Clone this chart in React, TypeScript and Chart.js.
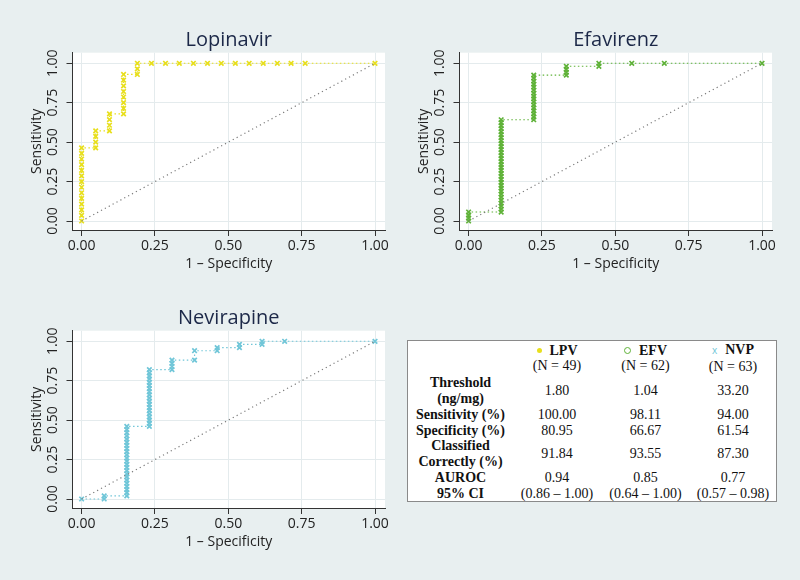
import React, { useEffect, useRef } from "react";
import { Chart, registerables } from "chart.js";

Chart.register(...registerables);

// ---- axis ticks ----
const axisTicks = [0, 0.25, 0.5, 0.75, 1];
const tickLabels = ["0.00", "0.25", "0.50", "0.75", "1.00"];

// ---- Lopinavir ROC points (1 - specificity, sensitivity) ----
const lpvFpr = [
  0, 0, 0, 0, 0, 0, 0, 0, 0, 0, 0, 0, 0, 0,
  0.048, 0.048, 0.048, 0.048,
  0.095, 0.095, 0.095, 0.095,
  0.143, 0.143, 0.143, 0.143, 0.143, 0.143, 0.143, 0.143,
  0.19, 0.19, 0.19,
  0.238, 0.286, 0.333, 0.381, 0.429, 0.476, 0.524, 0.571, 0.619, 0.667, 0.714, 0.762,
  1,
];
const lpvTpr = [
  0, 0.036, 0.071, 0.107, 0.143, 0.179, 0.214, 0.25, 0.286, 0.321, 0.357, 0.393, 0.429, 0.464,
  0.464, 0.5, 0.536, 0.571,
  0.571, 0.607, 0.643, 0.679,
  0.679, 0.714, 0.75, 0.786, 0.821, 0.857, 0.893, 0.929,
  0.929, 0.964, 1,
  1, 1, 1, 1, 1, 1, 1, 1, 1, 1, 1, 1,
  1,
];

// ---- Efavirenz ROC points ----
const efvFpr = [
  0, 0, 0, 0,
  0.111, 0.111, 0.111, 0.111, 0.111, 0.111, 0.111, 0.111, 0.111, 0.111, 0.111, 0.111, 0.111, 0.111, 0.111, 0.111,
  0.111, 0.111, 0.111, 0.111, 0.111, 0.111, 0.111, 0.111, 0.111, 0.111, 0.111, 0.111, 0.111, 0.111, 0.111, 0.111,
  0.222, 0.222, 0.222, 0.222, 0.222, 0.222, 0.222, 0.222, 0.222, 0.222, 0.222, 0.222, 0.222, 0.222, 0.222, 0.222,
  0.333, 0.333, 0.333, 0.333,
  0.444, 0.444,
  0.556, 0.667, 1,
];
const efvTpr = [
  0, 0.019, 0.038, 0.057,
  0.057, 0.075, 0.094, 0.113, 0.132, 0.151, 0.17, 0.189, 0.208, 0.226, 0.245, 0.264, 0.283, 0.302, 0.321, 0.34,
  0.358, 0.377, 0.396, 0.415, 0.434, 0.453, 0.472, 0.491, 0.509, 0.528, 0.547, 0.566, 0.585, 0.604, 0.623, 0.642,
  0.642, 0.66, 0.679, 0.698, 0.717, 0.736, 0.755, 0.774, 0.792, 0.811, 0.83, 0.849, 0.868, 0.887, 0.906, 0.925,
  0.925, 0.943, 0.962, 0.981,
  0.981, 1,
  1, 1, 1,
];

// ---- Nevirapine ROC points ----
const nvpFpr = [
  0,
  0.077, 0.077,
  0.154, 0.154, 0.154, 0.154, 0.154, 0.154, 0.154, 0.154, 0.154, 0.154, 0.154, 0.154,
  0.154, 0.154, 0.154, 0.154, 0.154, 0.154, 0.154, 0.154, 0.154, 0.154, 0.154,
  0.231, 0.231, 0.231, 0.231, 0.231, 0.231, 0.231, 0.231, 0.231, 0.231, 0.231, 0.231, 0.231,
  0.231, 0.231, 0.231, 0.231, 0.231, 0.231,
  0.308, 0.308, 0.308, 0.308,
  0.385, 0.385,
  0.462, 0.462,
  0.538, 0.538,
  0.615, 0.615,
  0.692,
  1,
];
const nvpTpr = [
  0,
  0, 0.02,
  0.02, 0.04, 0.06, 0.08, 0.1, 0.12, 0.14, 0.16, 0.18, 0.2, 0.22, 0.24,
  0.26, 0.28, 0.3, 0.32, 0.34, 0.36, 0.38, 0.4, 0.42, 0.44, 0.46,
  0.46, 0.48, 0.5, 0.52, 0.54, 0.56, 0.58, 0.6, 0.62, 0.64, 0.66, 0.68, 0.7,
  0.72, 0.74, 0.76, 0.78, 0.8, 0.82,
  0.82, 0.84, 0.86, 0.88,
  0.88, 0.94,
  0.94, 0.96,
  0.96, 0.98,
  0.98, 1,
  1,
  1,
];

// ---- table values ----
const drugCodes = ["LPV", "EFV", "NVP"];
const sampleSizes = [49, 62, 63];
const thresholds = ["1.80", "1.04", "33.20"];
const sensitivities = ["100.00", "98.11", "94.00"];
const specificities = ["80.95", "66.67", "61.54"];
const classifiedCorrectly = ["91.84", "93.55", "87.30"];
const aurocs = ["0.94", "0.85", "0.77"];
const ciLow = ["0.86", "0.64", "0.57"];
const ciHigh = ["1.00", "1.00", "0.98"];

const LPV_COLOR = "#e8df1c";
const EFV_COLOR = "#5fb238";
const NVP_COLOR = "#70c6d8";
const PAGE_BG = "#e8eff0";
const FONT = '"Open Sans", "Noto Sans", sans-serif';

type PanelProps = {
  title: string;
  xs: number[];
  ys: number[];
  color: string;
  left: number;
  top: number;
};

function Panel({ title, xs, ys, color, left, top }: PanelProps) {
  const ref = useRef<HTMLCanvasElement | null>(null);
  useEffect(() => {
    if (!ref.current) return;
    const decor = {
      id: "panelDecor",
      beforeDraw(chart: any) {
        const { ctx, chartArea: a } = chart;
        ctx.save();
        ctx.fillStyle = "#ffffff";
        ctx.fillRect(a.left, a.top, a.right - a.left, a.bottom - a.top);
        ctx.restore();
      },
      afterDraw(chart: any) {
        const { ctx, chartArea: a } = chart;
        ctx.save();
        ctx.font = `20px ${FONT}`;
        ctx.fillStyle = "#1c2848";
        ctx.textAlign = "center";
        ctx.textBaseline = "middle";
        ctx.fillText(title, (a.left + a.right) / 2, 40);
        ctx.restore();
      },
    };
    const tickFont = { family: FONT, size: 14 };
    const setTicks = (s: any) => {
      s.ticks = axisTicks.map((v) => ({ value: v }));
    };
    const label = (v: any) => {
      const i = axisTicks.indexOf(Number(v));
      return i >= 0 ? tickLabels[i] : "";
    };
    const chart = new Chart(ref.current, {
      type: "scatter",
      data: {
        datasets: [
          {
            data: [
              { x: 0, y: 0 },
              { x: 1, y: 1 },
            ],
            showLine: true,
            borderColor: "#7a7a7a",
            borderWidth: 1.2,
            borderDash: [1.2, 3.2],
            pointRadius: 0,
          },
          {
            data: xs.map((x, i) => ({ x, y: ys[i] })),
            showLine: true,
            borderColor: color,
            borderWidth: 1.2,
            borderDash: [1.5, 2.5],
            pointStyle: "crossRot",
            pointRadius: 3.2,
            pointBorderWidth: 1.7,
            pointBorderColor: color,
            pointBackgroundColor: color,
          },
        ],
      },
      options: {
        animation: false,
        responsive: false,
        devicePixelRatio: 1,
        layout: { padding: { left: 0, top: 52.7, right: 15, bottom: 15 } },
        plugins: { legend: { display: false }, tooltip: { enabled: false } },
        scales: {
          x: {
            type: "linear",
            min: -0.031,
            max: 1.034,
            afterBuildTicks: setTicks,
            afterFit: (s: any) => {
              s.height = 45;
            },
            ticks: { callback: label, font: tickFont, color: "#222", padding: 2, maxRotation: 0, minRotation: 0 },
            grid: { color: "#e4ebed", tickColor: "#333", tickLength: 6, lineWidth: 1 },
            border: { display: true, color: "#333", width: 1 },
            title: {
              display: true,
              text: "1 – Specificity",
              font: { family: FONT, size: 14 },
              color: "#222",
              padding: { top: 0, bottom: 3 },
            },
          },
          y: {
            type: "linear",
            min: -0.057,
            max: 1.067,
            afterBuildTicks: setTicks,
            afterFit: (s: any) => {
              s.width = 72.5;
            },
            ticks: {
              callback: label,
              font: tickFont,
              color: "#222",
              padding: 0,
              minRotation: 90,
              maxRotation: 90,
              crossAlign: "center",
            },
            grid: { color: "#e4ebed", tickColor: "#333", tickLength: 6, lineWidth: 1 },
            border: { display: true, color: "#333", width: 1 },
            title: {
              display: true,
              text: "Sensitivity",
              font: { family: FONT, size: 14 },
              color: "#222",
              padding: { top: 29, bottom: 0 },
            },
          },
        },
      },
      plugins: [decor],
    } as any);
    return () => chart.destroy();
  }, [title, xs, ys, color]);
  return (
    <canvas
      ref={ref}
      width={400}
      height={290}
      style={{ position: "absolute", left, top, width: 400, height: 290 }}
    />
  );
}

const cellBold: React.CSSProperties = { fontWeight: "bold", textAlign: "center", padding: 0 };
const cellVal: React.CSSProperties = { textAlign: "center", padding: 0 };

function Marker({ idx }: { idx: number }) {
  if (idx === 0)
    return (
      <span
        style={{
          display: "inline-block",
          width: 5,
          height: 5,
          borderRadius: "50%",
          background: LPV_COLOR,
          verticalAlign: "middle",
          marginRight: 8,
          position: "relative",
          top: -1,
        }}
      />
    );
  if (idx === 1)
    return (
      <span
        style={{
          display: "inline-block",
          width: 5,
          height: 5,
          borderRadius: "50%",
          border: `1.5px solid ${EFV_COLOR}`,
          verticalAlign: "middle",
          marginRight: 8,
          position: "relative",
          top: -1,
        }}
      />
    );
  return (
    <span style={{ color: NVP_COLOR, fontSize: 10, fontFamily: FONT, marginRight: 8 }}>x</span>
  );
}

function StatsTable() {
  const rows: { label: React.ReactNode; vals: string[] }[] = [
    { label: <>Threshold<br />(ng/mg)</>, vals: thresholds },
    { label: "Sensitivity (%)", vals: sensitivities },
    { label: "Specificity (%)", vals: specificities },
    { label: <>Classified<br />Correctly (%)</>, vals: classifiedCorrectly },
    { label: "AUROC", vals: aurocs },
    { label: "95% CI", vals: ciLow.map((l, i) => `(${l} – ${ciHigh[i]})`) },
  ];
  return (
    <div
      style={{
        position: "absolute",
        left: 407,
        top: 340,
        width: 370,
        height: 162,
        boxSizing: "border-box",
        border: "1px solid #8a8a8a",
        background: "#ffffff",
        paddingTop: 1,
      }}
    >
      <table
        style={{
          borderCollapse: "collapse",
          width: "100%",
          tableLayout: "fixed",
          fontFamily: '"Liberation Serif", "Times New Roman", serif',
          fontSize: 14,
          lineHeight: "15.9px",
          color: "#111",
        }}
      >
        <colgroup>
          <col style={{ width: 105 }} />
          <col style={{ width: 88 }} />
          <col style={{ width: 89 }} />
          <col style={{ width: 86 }} />
        </colgroup>
        <tbody>
          <tr>
            <td style={cellVal}></td>
            {drugCodes.map((d, i) => (
              <td key={d} style={cellVal}>
                <Marker idx={i} />
                <b>{d}</b>
                <br />
                (N = {sampleSizes[i]})
              </td>
            ))}
          </tr>
          {rows.map((r, ri) => (
            <tr key={ri}>
              <td style={cellBold}>{r.label}</td>
              {r.vals.map((v, i) => (
                <td key={i} style={cellVal}>
                  {v}
                </td>
              ))}
            </tr>
          ))}
        </tbody>
      </table>
    </div>
  );
}

export default function App() {
  return (
    <div
      style={{
        position: "absolute",
        left: 0,
        top: 0,
        width: 800,
        height: 580,
        background: PAGE_BG,
        overflow: "hidden",
      }}
    >
      <Panel title="Lopinavir" xs={lpvFpr} ys={lpvTpr} color={LPV_COLOR} left={0} top={0} />
      <Panel title="Efavirenz" xs={efvFpr} ys={efvTpr} color={EFV_COLOR} left={387} top={0} />
      <Panel title="Nevirapine" xs={nvpFpr} ys={nvpTpr} color={NVP_COLOR} left={0} top={278} />
      <StatsTable />
    </div>
  );
}
